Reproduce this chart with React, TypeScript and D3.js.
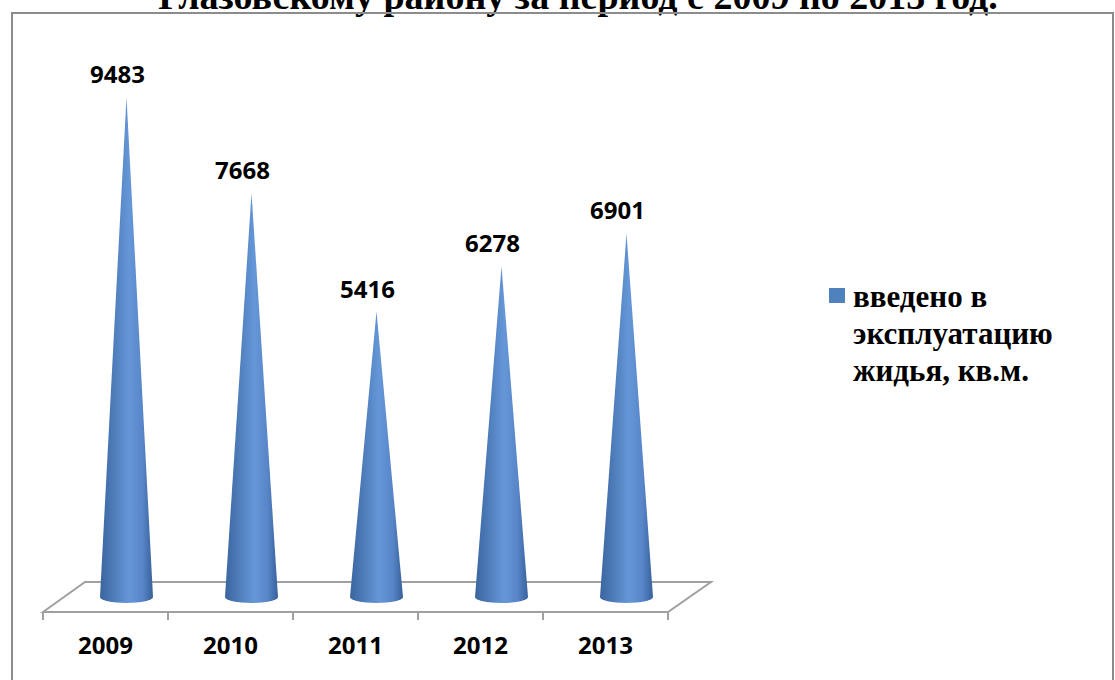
import * as d3 from "d3";

const years = ["2009", "2010", "2011", "2012", "2013"];
const values = [9483, 7668, 5416, 6278, 6901];
const seriesName = ["введено в", "эксплуатацию", "жидья, кв.м."];
const title = "Глазовскому району за период с 2009 по 2013 год.";

const width = 1115,
  height = 680;

// floor of the 3d plot: front edge + depth offset
const floorLeft = 43,
  floorRight = 668,
  floorFront = 612,
  depthX = 42,
  depthY = -30;

export default function App() {
  const x = d3.scaleBand().domain(years).range([floorLeft, floorRight]).paddingInner(0);
  const y = d3.scaleLinear().domain([0, 10000]).range([floorFront + depthY / 2, 70]);

  const r = 26.5,
    ry = 6;
  const baseY = y(0);
  const cx = (yr) => x(yr) + x.bandwidth() / 2 + depthX / 2;

  const conePath = (yr, v) => {
    const c = cx(yr);
    const p = d3.path();
    p.moveTo(c - r, baseY);
    p.lineTo(c, y(v));
    p.lineTo(c + r, baseY);
    return p.toString() + ` A ${r} ${ry} 0 0 1 ${c - r} ${baseY} Z`;
  };

  const floor = [
    [floorLeft, floorFront],
    [floorLeft + depthX, floorFront + depthY],
    [floorRight + depthX + 1, floorFront + depthY],
    [floorRight, floorFront],
  ];

  const ticks = [...years.map((d) => x(d)), floorRight];

  return (
    <svg
      width={width}
      height={height}
      style={{ position: "absolute", left: 0, top: 0, background: "#fff" }}
    >
      <defs>
        <linearGradient id="cone" x1="0" x2="1" y1="0" y2="0">
          <stop offset="0" stopColor="#3a659f" />
          <stop offset="0.55" stopColor="#6597d8" />
          <stop offset="0.8" stopColor="#5886c8" />
          <stop offset="1" stopColor="#38619c" />
        </linearGradient>
      </defs>

      <text
        x={578}
        y={9}
        textAnchor="middle"
        fontFamily="Liberation Serif"
        fontWeight="bold"
        fontSize={38}
      >
        {title}
      </text>

      <rect x={12} y={13} width={1101} height={700} fill="none" stroke="#8c8c8c" strokeWidth={2} />

      <polygon
        points={floor.map((p) => p.join(",")).join(" ")}
        fill="#fff"
        stroke="#a0a0a0"
        strokeWidth={2}
      />
      {ticks.map((t, i) => (
        <line key={i} x1={t} x2={t} y1={floorFront} y2={floorFront + 8} stroke="#a0a0a0" strokeWidth={2} />
      ))}

      {years.map((yr, i) => (
        <path key={yr} d={conePath(yr, values[i])} fill="url(#cone)" />
      ))}

      <g fontFamily="Open Sans" fontWeight="bold" fontSize={24} textAnchor="middle">
        {years.map((yr, i) => (
          <text key={yr} x={cx(yr) - 9} y={y(values[i]) - 14}>
            {values[i]}
          </text>
        ))}
        {years.map((yr) => (
          <text key={yr} x={x(yr) + x.bandwidth() / 2} y={654}>
            {yr}
          </text>
        ))}
      </g>

      <rect x={829} y={288} width={16} height={15} fill="#4f81bd" />
      <g fontFamily="Liberation Serif" fontWeight="bold" fontSize={31}>
        {seriesName.map((s, i) => (
          <text key={i} x={853} y={307 + i * 37}>
            {s}
          </text>
        ))}
      </g>
    </svg>
  );
}
